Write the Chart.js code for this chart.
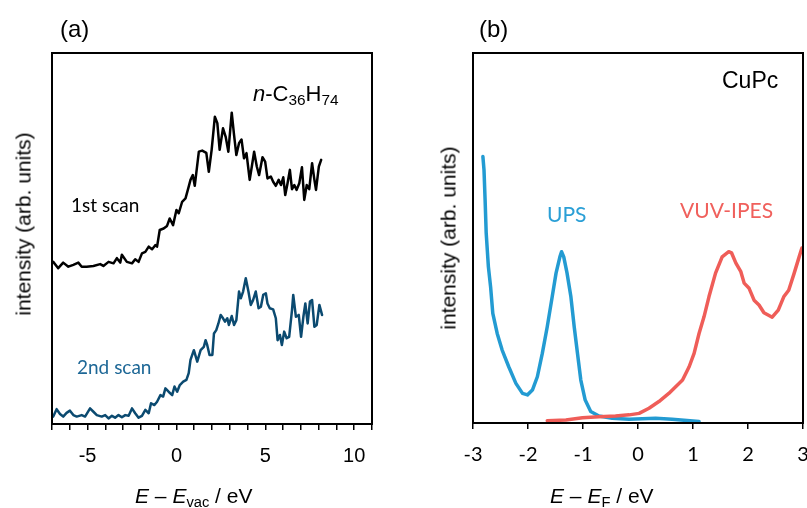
<!DOCTYPE html>
<html>
<head>
<meta charset="utf-8">
<script src="https://cdn.jsdelivr.net/npm/chart.js@4.4.1/dist/chart.umd.min.js"></script>
<style>
body{margin:0;width:807px;height:508px;overflow:hidden;background:#fff;position:relative;font-family:"Liberation Sans",Arial,sans-serif;color:#000;}
#wrapA{position:absolute;left:0;top:0;width:400px;height:508px;}
#wrapB{position:absolute;left:400px;top:0;width:440px;height:508px;}
.lbl{position:absolute;white-space:nowrap;line-height:1;}
.cal{font-family:Lato,"Open Sans",sans-serif;}
.rot{transform:translate(-50%,-50%) rotate(-90deg);}
sub{font-size:0.7em;vertical-align:-0.28em;line-height:0;}
</style>
</head>
<body>
<div id="wrapA"><canvas id="chartA" width="400" height="508"></canvas></div>
<div id="wrapB"><canvas id="chartB" width="440" height="508"></canvas></div>

<div class="lbl" style="left:60px;top:17px;font-size:24px;">(a)</div>
<div class="lbl" style="left:479px;top:17px;font-size:24px;">(b)</div>
<div class="lbl" style="left:253px;top:83px;font-size:22px;"><i>n</i>-C<sub>36</sub>H<sub>74</sub></div>
<div class="lbl" style="left:722px;top:69px;font-size:23px;">CuPc</div>
<div class="lbl cal" style="left:71px;top:195px;font-size:19px;">1st scan</div>
<div class="lbl cal" style="left:77px;top:357px;font-size:19px;color:#1d6796;">2nd scan</div>
<div class="lbl cal" style="left:547px;top:203px;font-size:21px;color:#2a9fd6;">UPS</div>
<div class="lbl cal" style="left:680px;top:199px;font-size:21px;color:#f0605c;">VUV-IPES</div>
<div class="lbl rot" style="left:23px;top:224px;font-size:21px;">intensity (arb. units)</div>
<div class="lbl rot" style="left:448px;top:238px;font-size:21px;">intensity (arb. units)</div>
<div class="lbl" style="left:135px;top:485px;font-size:21px;"><i>E</i> – <i>E</i><sub>vac</sub> / eV</div>
<div class="lbl" style="left:550px;top:485px;font-size:21px;"><i>E</i> – <i>E</i><sub>F</sub> / eV</div>

<script>
// (a) n-C36H74, energy vs vacuum level
var scan1X = [-6.93,-6.65,-6.37,-6.08,-5.80,-5.52,-5.33,-5.05,-4.67,-4.29,-4.11,-3.82,-3.54,-3.35,-3.16,-3.07,-2.79,-2.50,-2.32,-2.13,-1.94,-1.75,-1.56,-1.37,-1.19,-1.09,-0.94,-0.72,-0.53,-0.38,-0.19,0.00,0.13,0.32,0.51,0.69,0.79,0.92,1.03,1.26,1.45,1.68,1.82,1.98,2.16,2.30,2.43,2.62,2.77,2.92,3.11,3.24,3.37,3.52,3.66,3.80,3.94,4.12,4.24,4.37,4.52,4.65,4.84,4.99,5.12,5.31,5.44,5.59,5.75,5.88,6.01,6.12,6.25,6.38,6.50,6.63,6.76,6.91,7.06,7.19,7.33,7.47,7.63,7.76,7.85,8.01,8.14];
var scan1Y = [43.7,42.0,43.5,42.4,42.9,43.5,42.4,42.4,42.6,43.1,42.6,43.7,43.3,44.7,43.5,45.6,43.7,43.3,44.4,43.7,46.0,46.4,47.8,47.1,48.2,47.8,52.3,52.7,53.4,55.4,53.6,57.7,56.8,59.9,60.8,64.0,65.8,67.1,64.2,73.4,73.7,73.1,68.0,73.9,82.8,81.1,73.9,79.7,77.4,73.4,83.9,77.9,72.5,75.7,76.7,71.6,73.0,65.8,69.4,73.4,69.4,67.1,71.9,70.7,66.2,66.7,65.3,64.2,65.8,64.4,66.5,61.7,64.9,68.5,63.3,64.4,63.1,64.9,69.2,60.4,64.4,63.3,70.3,65.8,63.1,69.4,71.2];

var scan2X = [-6.93,-6.74,-6.55,-6.37,-6.18,-5.99,-5.80,-5.61,-5.33,-5.14,-4.86,-4.67,-4.48,-4.20,-4.01,-3.82,-3.63,-3.45,-3.26,-3.07,-2.88,-2.69,-2.50,-2.32,-2.13,-1.94,-1.75,-1.56,-1.43,-1.24,-1.09,-0.90,-0.75,-0.62,-0.44,-0.24,-0.11,0.04,0.19,0.38,0.56,0.69,0.79,0.98,1.17,1.36,1.54,1.64,1.73,1.86,2.02,2.11,2.24,2.36,2.49,2.62,2.73,2.86,2.95,3.11,3.24,3.37,3.52,3.62,3.75,3.90,4.05,4.18,4.31,4.46,4.62,4.75,4.88,5.03,5.12,5.25,5.44,5.59,5.69,5.82,5.93,6.06,6.20,6.34,6.50,6.57,6.72,6.88,7.01,7.14,7.25,7.38,7.51,7.63,7.76,7.89,8.04,8.19];
var scan2Y = [2.0,4.0,2.7,2.0,3.0,3.6,2.4,2.0,2.4,2.0,4.2,3.3,2.4,2.0,2.4,1.5,2.2,1.7,2.4,1.8,2.4,2.2,4.2,2.9,1.7,2.2,3.8,2.9,5.6,5.1,6.0,7.8,7.4,9.6,8.7,7.8,10.1,8.7,10.5,11.4,11.9,13.7,17.3,19.9,16.8,19.9,20.8,22.6,21.3,18.6,18.6,24.4,25.3,27.1,29.4,28.5,27.6,28.5,26.7,29.1,26.7,28.0,35.7,33.9,35.7,39.3,35.7,32.1,33.4,35.7,31.2,31.6,34.8,35.2,32.5,31.2,30.9,28.5,22.6,24.0,21.3,24.9,23.1,23.5,30.7,34.8,28.9,29.4,23.5,28.9,32.5,27.1,33.0,33.4,26.2,26.7,32.1,29.4];

// (b) CuPc, energy vs Fermi level
var upsX = [-2.82,-2.80,-2.78,-2.76,-2.72,-2.68,-2.64,-2.56,-2.47,-2.35,-2.22,-2.10,-2.01,-1.92,-1.83,-1.74,-1.65,-1.56,-1.49,-1.42,-1.39,-1.35,-1.29,-1.22,-1.16,-1.10,-1.04,-0.96,-0.86,-0.71,-0.47,-0.16,0.32,0.62,1.11];
var upsY = [72.0,68.4,60.3,51.3,42.2,36.8,29.6,24.2,19.7,15.2,10.7,8.0,7.6,8.9,12.5,18.8,26.0,34.1,40.5,44.9,46.3,44.9,40.5,34.1,26.0,18.8,11.6,6.2,3.1,1.9,1.3,1.0,1.3,1.0,0.4];

var ipesX = [-1.65,-1.31,-1.01,-0.71,-0.41,-0.16,0.02,0.20,0.38,0.56,0.81,0.93,1.02,1.11,1.20,1.29,1.41,1.53,1.65,1.70,1.78,1.87,1.93,2.02,2.11,2.20,2.29,2.44,2.55,2.65,2.74,2.84,2.93,2.98];
var ipesY = [0.6,0.8,1.4,1.7,1.9,2.2,2.6,4.0,5.8,8.0,11.6,15.2,18.8,24.2,28.7,34.1,40.5,44.9,46.3,46.0,43.2,40.9,37.8,36.4,33.2,31.9,29.8,28.6,30.5,34.1,35.9,40.5,44.9,47.3];

function pts(xs, ys){
  var out = [];
  for (var i = 0; i < xs.length; i++) out.push({x: xs[i], y: ys[i]});
  return out;
}

// box around plot area
var frame = {
  id: 'frame',
  afterDraw: function(chart){
    var a = chart.chartArea, c = chart.ctx;
    c.save();
    c.strokeStyle = '#000';
    c.lineWidth = 2;
    c.strokeRect(a.left, a.top, a.right - a.left, a.bottom - a.top);
    c.restore();
  }
};

function makeOpts(pad, xmin, xmax, fontFam, labelFn){
  return {
    responsive: false,
    animation: false,
    layout: {padding: pad},
    plugins: {legend: {display: false}, tooltip: {enabled: false}},
    elements: {point: {radius: 0}, line: {tension: 0, borderJoinStyle: 'round', borderCapStyle: 'round'}},
    scales: {
      x: {
        type: 'linear', min: xmin, max: xmax,
        afterFit: function(s){ s.height = 84; },
        border: {display: false},
        grid: {drawOnChartArea: false, drawTicks: true, tickLength: 6, color: '#000', lineWidth: 1.5},
        ticks: {stepSize: 1, autoSkip: false, maxRotation: 0, padding: 14, color: '#000',
                font: {family: fontFam, size: 20}, callback: labelFn}
      },
      y: {display: false, min: 0, max: 100}
    }
  };
}

new Chart(document.getElementById('chartA'), {
  type: 'line',
  data: {datasets: [
    {data: pts(scan1X, scan1Y), borderColor: '#000000', borderWidth: 2.5},
    {data: pts(scan2X, scan2Y), borderColor: '#0b4a70', borderWidth: 2.5}
  ]},
  options: makeOpts({left: 52, top: 53, right: 28, bottom: 0}, -7, 11, '"Liberation Sans", Arial, sans-serif',
    function(v){ return (v % 5 === 0 && v > -7 && v < 11) ? String(v) : ''; }),
  plugins: [frame]
});

new Chart(document.getElementById('chartB'), {
  type: 'line',
  data: {datasets: [
    {data: pts(ipesX, ipesY), borderColor: '#ef5d58', borderWidth: 3.5},
    {data: pts(upsX, upsY), borderColor: '#239bd2', borderWidth: 3.5}
  ]},
  options: makeOpts({left: 73, top: 53, right: 37, bottom: 1}, -3, 3, 'Lato, "Open Sans", sans-serif',
    function(v){ return String(v); }),
  plugins: [frame]
});
</script>
</body>
</html>
